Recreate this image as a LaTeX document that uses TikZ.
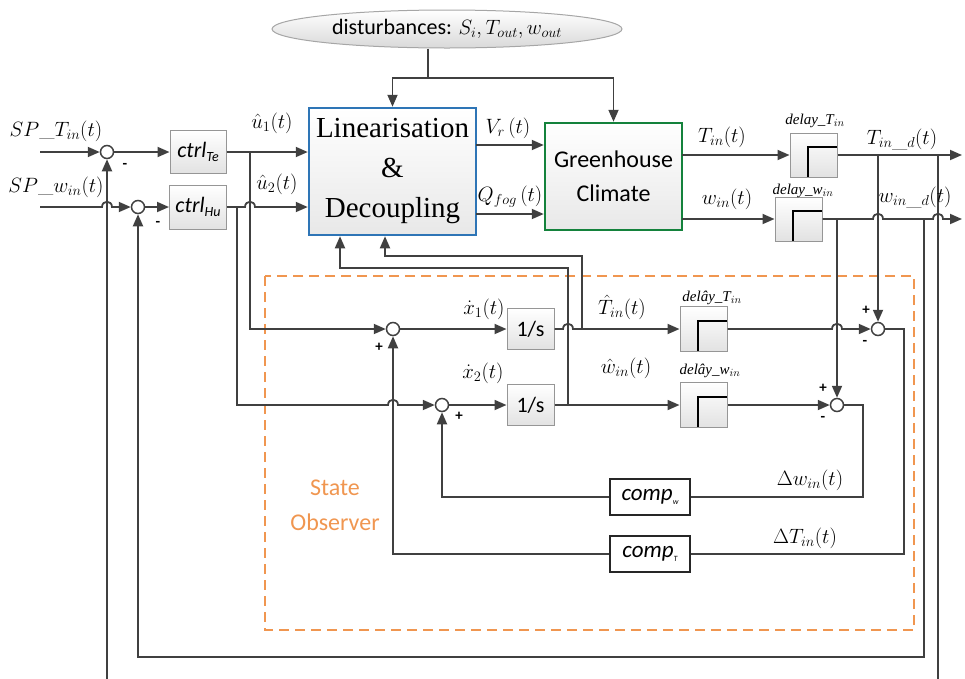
\documentclass[tikz,border=0pt]{standalone}
\usepackage{fontspec}
\setsansfont{Carlito}
\newfontfamily\timesfont{Liberation Serif}
\usepackage{tikz}
\usetikzlibrary{arrows.meta,positioning,shapes.geometric,calc}
\definecolor{linegray}{RGB}{64,64,64}
\definecolor{linblue}{RGB}{46,117,182}
\definecolor{ghgreen}{RGB}{20,130,60}
\definecolor{obsorange}{RGB}{240,150,80}
\definecolor{boxgray}{RGB}{226,226,226}
\definecolor{boxedge}{RGB}{150,150,150}

\begin{document}
\begin{tikzpicture}[x=1pt, y=-1pt,
    block/.style={rectangle, draw=boxedge, top color=white, bottom color=boxgray, line width=1pt,
        inner sep=0pt, font=\sffamily\fontsize{22}{22}\selectfont},
    sumnode/.style={circle, draw=linegray, fill=white, line width=1.5pt, minimum size=13pt, inner sep=0pt},
    delaybox/.style={rectangle, draw=boxedge, top color=white, bottom color=boxgray, line width=1pt,
        minimum width=47pt, minimum height=44pt,
        path picture={\draw[line width=1.6pt, black]
            ($(path picture bounding box.south west)!0.38!(path picture bounding box.south east)$)
            |- ($(path picture bounding box.north east)!0.32!(path picture bounding box.south east)$);}},
    compbox/.style={rectangle, draw=black!85, fill=white, line width=1.2pt, minimum width=80pt,
        minimum height=36pt, inner sep=0pt, font=\sffamily\itshape\fontsize{23}{23}\selectfont},
    arr/.style={-{Triangle[length=12pt, width=10pt]}, line width=1.8pt, draw=linegray},
    wire/.style={line width=1.8pt, draw=linegray},
    lbl/.style={font=\fontsize{22}{22}\selectfont, inner sep=0pt},
    dlbl/.style={font=\timesfont\itshape\fontsize{15}{15}\selectfont, inner sep=0pt},
    sign/.style={font=\sffamily\bfseries\fontsize{15}{15}\selectfont, inner sep=0pt}
]
\useasboundingbox (0,0) rectangle (965,678);
\clip (0,0) rectangle (965,678);

% observer frame
\draw[obsorange, line width=1.4pt, dash pattern=on 10pt off 6pt] (265,276) rectangle (914,630);
\node[font=\sffamily\fontsize{24}{35}\selectfont, text=obsorange, align=center] (obslbl) at (335,505) {State\\Observer};

% main blocks
\node[ellipse, draw=gray!70, line width=1pt, top color=white, bottom color=gray!30, minimum width=350pt,
    minimum height=38pt, inner sep=0pt, font=\sffamily\fontsize{22}{22}\selectfont] (dist) at (447,29)
    {disturbances: $S_i,T_{out},w_{out}$};
\node[rectangle, draw=linblue, line width=2.5pt, top color=white, bottom color=gray!18, minimum width=167pt,
    minimum height=127pt, inner sep=0pt, align=center, font=\timesfont\fontsize{29}{40}\selectfont] (lin)
    at (392.5,171.5) {Linearisation\\\&\\Decoupling};
\node[rectangle, draw=ghgreen, line width=2.5pt, top color=white, bottom color=gray!18, minimum width=137pt,
    minimum height=107pt, inner sep=0pt, align=center, font=\sffamily\fontsize{24}{34}\selectfont] (gh)
    at (613.5,176.5) {Greenhouse\\Climate};

\node[block, minimum width=56pt, minimum height=43pt] (ctrlTe) at (198,152)
    {\itshape ctrl\raisebox{-0.35ex}{\fontsize{14}{14}\selectfont Te}};
\node[block, minimum width=57pt, minimum height=44pt] (ctrlHu) at (198,207)
    {\itshape ctrl\raisebox{-0.35ex}{\fontsize{14}{14}\selectfont Hu}};

\node[sumnode] (s1) at (107,152) {};
\node[sumnode] (s2) at (138,207) {};
\node[sumnode] (s3) at (393,329) {};
\node[sumnode] (s4) at (442,405) {};
\node[sumnode] (s5) at (878,329) {};
\node[sumnode] (s6) at (837,405) {};

\node[block, minimum width=47pt, minimum height=41pt] (intUp) at (530.5,329) {1/s};
\node[block, minimum width=47pt, minimum height=41pt] (intLo) at (530.5,405) {1/s};

\node[delaybox] (delT) at (813.5,155) {};
\node[delaybox] (delW) at (798.5,219) {};
\node[delaybox, minimum height=45pt] (dhT) at (703.5,329) {};
\node[delaybox, minimum height=45pt] (dhW) at (703.5,405) {};

\node[compbox] (compW) at (650,497) {comp\raisebox{-0.4ex}{\fontsize{8}{8}\selectfont w}};
\node[compbox] (compT) at (650,554) {comp\raisebox{-0.4ex}{\fontsize{8}{8}\selectfont T}};

% disturbances
\coordinate (dsplit) at (428,78);
\draw[wire] (dsplit |- dist.south) -- (dsplit);
\draw[arr] (dsplit) -| (lin.north);
\draw[arr] (dsplit) -| (gh.north);

% set points and controllers
\coordinate (spT) at (40,152);
\coordinate (spW) at (40,207);
\draw[arr] (spT) -- (s1.west);
\draw[arr] (spW) -- (102,207) .. controls +(0,-7) and +(0,-7) .. (112,207) -- (s2.west);
\draw[arr] (s1) -- (ctrlTe);
\draw[arr] (s2) -- (ctrlHu);
\draw[arr] (ctrlTe) -- (ctrlTe -| lin.west);
\draw[arr] (ctrlHu.east) -- (245,207) .. controls +(0,-7) and +(0,-7) .. (255,207) -- (ctrlHu -| lin.west);

% inputs into the observer
\coordinate (bu1) at (250,152);
\coordinate (bu2) at (237,207);
\draw[arr] (bu1) |- (s3.west);
\draw[arr] (bu2) -- (237,405) -- (388,405) .. controls +(0,-7) and +(0,-7) .. (398,405) -- (s4.west);
\draw[arr] (s3) -- (intUp);
\draw[arr] (s4) -- (intLo);
\draw[arr] (intUp.east) -- (563,329) .. controls +(0,-7) and +(0,-7) .. (573,329) -- (dhT.west);
\draw[arr] (intLo) -- (dhW);

% estimates back to the decoupling block
\coordinate (fbT) at (582,329);
\coordinate (fbW) at (568,405);
\draw[arr] (fbT) -- (582,256) -| ([xshift=-7.5pt]lin.south);
\draw[arr] (fbW) -- (568,268) -| ([xshift=-52.5pt]lin.south);

% plant
\coordinate (vrout) at (476,145);
\coordinate (qout) at (476,214);
\coordinate (tout) at (682,155);
\coordinate (wout) at (682,219);
\draw[arr] (vrout) -- (vrout -| gh.west);
\draw[arr] (qout) -- (qout -| gh.west);
\draw[arr] (tout) -- (delT.west);
\draw[arr] (wout) -- (delW.west);

% measured outputs
\coordinate (tend) at (962,155);
\coordinate (wend) at (962,219);
\draw[arr] (delT.east) -- (tend);
\draw[arr] (delW.east) -- (873,219) .. controls +(0,-7) and +(0,-7) .. (883,219) -- (933,219)
    .. controls +(0,-7) and +(0,-7) .. (943,219) -- (wend);
\coordinate (jT1) at (878,155);
\coordinate (jW1) at (837,219);
\coordinate (jT2) at (938,155);
\coordinate (jW2) at (924,219);
\draw[arr] (jT1) -- (s5.north);
\draw[arr] (jW1) -- (s6.north);
\draw[arr] (jT2) -- (938,700) -| (s1.south);
\draw[arr] (jW2) -- (924,657) -| (s2.south);

% delayed estimates and corrections
\draw[arr] (dhT.east) -- (832,329) .. controls +(0,-7) and +(0,-7) .. (842,329) -- (s5.west);
\draw[arr] (dhW) -- (s6);
\draw[wire] (s5.east) -- (904,329) |- (compT.east);
\draw[wire] (s6.east) -- (863,405) |- (compW.east);
\draw[arr] (compT.west) -| (s3.south);
\draw[arr] (compW.west) -| (s4.south);

% signal labels
\node[lbl] (lSPT) at (56,131) {$SP\_T_{in}(t)$};
\node[lbl] (lSPW) at (56,187) {$SP\_w_{in}(t)$};
\node[lbl] (lu1) at (272,123) {$\hat{u}_1(t)$};
\node[lbl] (lu2) at (277,184) {$\hat{u}_2(t)$};
\node[lbl] (lVr) at (508,128) {$V_r\,(t)$};
\node[lbl] (lQ) at (510,197) {$Q_{fog}\,(t)$};
\node[lbl] (lTin) at (722,137) {$T_{in}(t)$};
\node[lbl] (lWin) at (727,199) {$w_{in}(t)$};
\node[lbl] (lTd) at (902,140) {$T_{in\_d}(t)$};
\node[lbl] (lWd) at (915,198) {$w_{in\_d}(t)$};
\node[lbl] (lx1) at (484,309) {$\dot{x}_1(t)$};
\node[lbl] (lx2) at (483,373) {$\dot{x}_2(t)$};
\node[lbl] (lTh) at (622,307) {$\hat{T}_{in}(t)$};
\node[lbl] (lWh) at (626,368) {$\hat{w}_{in}(t)$};
\node[lbl] (ldW) at (810,480) {$\Delta w_{in}(t)$};
\node[lbl] (ldT) at (805,538) {$\Delta T_{in}(t)$};
\node[dlbl] (ldelT) at (815,121) {delay\_T$_{in}$};
\node[dlbl] (ldelW) at (803,191) {delay\_w$_{in}$};
\node[dlbl] (ldhT) at (712,298) {del\^ay\_T$_{in}$};
\node[dlbl] (ldhW) at (710,371) {del\^ay\_w$_{in}$};

% signs
\node[sign] (m1) at (125,166) {-};
\node[sign] (m2) at (158,224) {-};
\node[sign] (p3) at (379,347) {+};
\node[sign] (p4) at (459,416) {+};
\node[sign] (p5) at (866,310) {+};
\node[sign] (m5) at (865,343) {-};
\node[sign] (p6) at (823,388) {+};
\node[sign] (m6) at (823,419) {-};
\end{tikzpicture}
\end{document}
